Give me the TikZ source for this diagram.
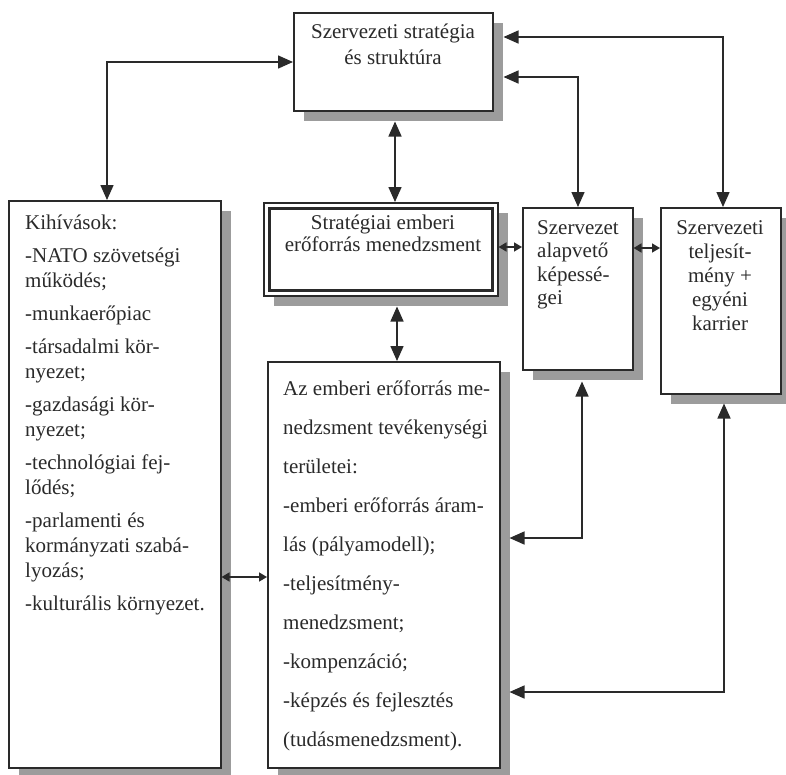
\documentclass[tikz,border=0pt]{standalone}
\usepackage{fontspec}
\setmainfont{Liberation Serif}
\usetikzlibrary{arrows.meta,calc,shadows}

\definecolor{ink}{HTML}{2A2A2A}
\definecolor{shade}{HTML}{9C9C9C}

\tikzset{
  box/.style={draw=ink, line width=1.5pt, fill=white, rectangle, inner sep=0pt,
    anchor=north west,
    drop shadow={shadow xshift=10pt, shadow yshift=-10pt, fill=shade, opacity=1}},
  txt/.style={inner sep=0pt, text=ink},
  link/.style={draw=ink, line width=1.5pt,
    {Triangle[length=15pt,width=13pt]}-{Triangle[length=15pt,width=13pt]}},
  short/.style={draw=ink, line width=1.5pt,
    {Triangle[length=8pt,width=9pt]}-{Triangle[length=8pt,width=9pt]}},
}

\begin{document}
\begin{tikzpicture}[x=1pt,y=-1pt]
\clip (0,0) rectangle (786,774);
\fill[white] (0,0) rectangle (786,774);

% boxes
\node[box, minimum width=199pt, minimum height=98pt]  (strat) at (293,12)  {};
\node[box, minimum width=212pt, minimum height=567pt] (kih)   at (8,200)   {};
\node[box, minimum width=234pt, minimum height=93pt]  (sem)   at (263,202) {};
\draw[ink, line width=3pt] ($(sem.north west)+(6,6)$) rectangle ($(sem.south east)+(-6,-6)$);
\node[box, minimum width=110pt, minimum height=162pt] (core)  at (522,207) {};
\node[box, minimum width=120pt, minimum height=186pt] (perf)  at (660,207) {};
\node[box, minimum width=232pt, minimum height=406pt] (hr)    at (267,361) {};

% texts (each anchored at the baseline of its last line)
\node[txt, align=center, anchor=base, font=\fontsize{21}{26}\selectfont] (tstrat) at (393,64)
  {Szervezeti stratégia\\és struktúra};
\node[txt, align=left, anchor=base west, font=\fontsize{21}{25}\selectfont] (tkih) at (25,610)
  {Kihívások:\\[8pt]
   -NATO szövetségi\\
   működés;\\[8pt]
   -munkaerőpiac\\[8pt]
   -társadalmi kör-\\
   nyezet;\\[8pt]
   -gazdasági kör-\\
   nyezet;\\[8pt]
   -technológiai fej-\\
   lődés;\\[8pt]
   -parlamenti és\\
   kormányzati szabá-\\
   lyozás;\\[8pt]
   -kulturális környezet.};
\node[txt, align=center, anchor=base, font=\fontsize{21}{22}\selectfont] (tsem) at (383,251)
  {Stratégiai emberi\\erőforrás menedzsment};
\node[txt, align=left, anchor=base west, font=\fontsize{21}{23.5}\selectfont] (tcore) at (537,304.5)
  {Szervezet\\alapvető\\képessé-\\gei};
\node[txt, align=center, anchor=base, font=\fontsize{21}{24}\selectfont] (tperf) at (720,330)
  {Szervezeti\\teljesít-\\mény +\\egyéni\\karrier};
\node[txt, align=left, anchor=base west, font=\fontsize{21}{39}\selectfont] (thr) at (283,746)
  {Az emberi erőforrás me-\\
   nedzsment tevékenységi\\
   területei:\\
   -emberi erőforrás áram-\\
   lás (pályamodell);\\
   -teljesítmény-\\
   menedzsment;\\
   -kompenzáció;\\
   -képzés és fejlesztés\\
   (tudásmenedzsment).};

% connectors
\draw[link] ($(strat.north west)+(0,50)$) -| ($(kih.north west)+(99,0)$);
\draw[link] ($(strat.north east)+(10,25)$) -| ($(perf.north west)+(63,0)$);
\draw[link] ($(strat.north east)+(10,65)$) -| ($(core.north west)+(56,0)$);
\draw[link] ($(strat.south west)+(102,10)$) -- ($(sem.north west)+(132,0)$);
\draw[link] ($(sem.south west)+(134,10)$) -- ($(hr.north west)+(130,0)$);
\draw[short] ($(sem.north east)+(0,45)$) -- ($(core.north west)+(0,40)$);
\draw[short] ($(core.north east)+(0,41)$) -- ($(perf.north west)+(0,41)$);
\draw[link] ($(core.south west)+(60,11)$) |- ($(hr.north east)+(9,177)$);
\draw[link] ($(perf.south west)+(64,9)$) |- ($(hr.north east)+(9,331)$);
\draw[short] ($(kih.north east)+(0,377)$) -- ($(hr.north west)+(0,216)$);
\end{tikzpicture}
\end{document}
